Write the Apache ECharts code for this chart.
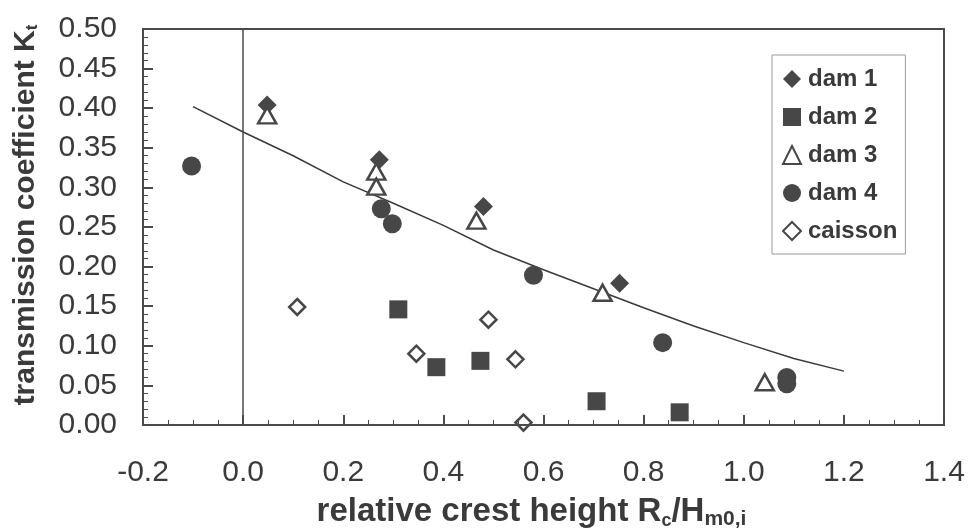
<!DOCTYPE html>
<html>
<head>
<meta charset="utf-8">
<script src="https://cdn.jsdelivr.net/npm/echarts@6/dist/echarts.min.js"></script>
<style>
html,body{margin:0;padding:0;background:#fff;}
#wrap{position:relative;width:969px;height:531px;}
#chart,#ticks{position:absolute;left:0;top:0;width:969px;height:531px;}
#ticks{pointer-events:none;}
</style>
</head>
<body>
<div id="wrap"><div id="chart"></div><div id="ticks"></div></div>
<script>
// ---- data ----
const dam1X = [0.048, 0.272, 0.480, 0.752];
const dam1Y = [0.404, 0.335, 0.276, 0.179];
const dam2X = [0.310, 0.386, 0.474, 0.706, 0.872];
const dam2Y = [0.146, 0.073, 0.081, 0.030, 0.016];
const dam3X = [0.048, 0.266, 0.266, 0.466, 0.718, 1.042];
const dam3Y = [0.391, 0.320, 0.301, 0.258, 0.167, 0.054];
const dam4X = [-0.103, 0.276, 0.298, 0.580, 0.838, 1.086, 1.086];
const dam4Y = [0.327, 0.273, 0.254, 0.189, 0.104, 0.060, 0.052];
const caissonX = [0.108, 0.346, 0.490, 0.544, 0.560];
const caissonY = [0.149, 0.090, 0.133, 0.083, 0.003];
const trendX = [-0.1, 0.0, 0.1, 0.2, 0.3, 0.4, 0.5, 0.6, 0.7, 0.8, 0.9, 1.0, 1.1, 1.2];
const trendY = [0.402, 0.370, 0.340, 0.307, 0.280, 0.252, 0.221, 0.196, 0.172, 0.148, 0.125, 0.104, 0.084, 0.068];
const seriesNames = ['dam 1', 'dam 2', 'dam 3', 'dam 4', 'caisson'];
const xRange = [-0.2, 1.4], xStep = 0.2;
const yRange = [0, 0.5], yStep = 0.05;

const zip = (xs, ys) => xs.map((x, i) => [x, ys[i]]);
const ink = '#474747';
const txt = '#3a3a3a';
const axisCol = '#4a4a4a';
const clear = 'rgba(0,0,0,0)';
const font = 'Liberation Sans, Arial, sans-serif';
const gridBox = { left: 143, right: 25, top: 29, bottom: 106 };

// axis that only draws a frame line
const frameAxis = (pos, r) => ({
  type: 'value', position: pos, min: r[0], max: r[1],
  axisLine: { show: true, onZero: false, lineStyle: { color: axisCol, width: 2 } },
  axisTick: { show: false }, axisLabel: { show: false }, splitLine: { show: false }
});
// axis that draws inward ticks (labels kept but transparent)
const tickAxis = (pos, r, step, minorSplit) => ({
  type: 'value', position: pos, min: r[0], max: r[1], interval: step,
  axisLine: { show: true, onZero: false, lineStyle: { color: axisCol, width: 2 } },
  axisTick: { show: true, inside: true, length: 10, lineStyle: { color: axisCol, width: 1.5 } },
  minorTick: { show: true, splitNumber: minorSplit, length: 5, lineStyle: { color: axisCol, width: 1 } },
  axisLabel: { show: true, color: clear, fontSize: 10 }, splitLine: { show: false }
});

const chart = echarts.init(document.getElementById('chart'));
chart.setOption({
  backgroundColor: '#ffffff',
  animation: false,
  textStyle: { fontFamily: font, color: txt },
  grid: Object.assign({ outerBoundsMode: 'none' }, gridBox),
  legend: {
    data: seriesNames,
    orient: 'vertical',
    left: 772, top: 55,
    padding: [12, 8, 11, 10],
    itemGap: 14,
    itemWidth: 18, itemHeight: 18,
    borderColor: '#9a9a9a', borderWidth: 1,
    textStyle: { fontSize: 24, fontWeight: 'bold', color: txt, fontFamily: font, padding: [0, 0, 0, 2] }
  },
  xAxis: [{
    type: 'value', position: 'bottom', min: xRange[0], max: xRange[1], interval: xStep,
    name: 'relative crest height R{sub|c}/H{sub2|m0,i}',
    nameLocation: 'middle', nameGap: 69,
    nameTextStyle: { fontSize: 33, fontWeight: 'bold', color: txt, fontFamily: font, padding: [0, 24, 0, 0],
      rich: {
        sub: { fontSize: 18, fontWeight: 'bold', color: txt, fontFamily: font, verticalAlign: 'bottom', padding: [15, 0, 0, 0] },
        sub2: { fontSize: 21, fontWeight: 'bold', color: txt, fontFamily: font, verticalAlign: 'bottom', padding: [15, 0, 0, 0] }
      } },
    axisLine: { show: true, onZero: false, lineStyle: { color: axisCol, width: 2 } },
    axisTick: { show: true, inside: true, length: 10, lineStyle: { color: axisCol, width: 1.5 } },
    minorTick: { show: true, splitNumber: 4, length: 5, lineStyle: { color: axisCol, width: 1 } },
    splitLine: { show: false },
    axisLabel: { fontSize: 30, color: txt, margin: 33, formatter: v => v.toFixed(1) }
  }, frameAxis('top', xRange), tickAxis('bottom', xRange, xStep, 4)],
  yAxis: [{
    type: 'value', position: 'left', min: yRange[0], max: yRange[1], interval: yStep,
    name: 'transmission coefficient K{sub|t}',
    nameLocation: 'middle', nameGap: 102, nameRotate: 90,
    nameTextStyle: { fontSize: 30, fontWeight: 'bold', color: txt, fontFamily: font, padding: [0, 0, 0, 24],
      rich: { sub: { fontSize: 17, fontWeight: 'bold', color: txt, fontFamily: font, verticalAlign: 'bottom', padding: [12, 0, 0, 0] } } },
    axisLine: { show: true, onZero: false, lineStyle: { color: axisCol, width: 2 } },
    axisTick: { show: true, inside: true, length: 10, lineStyle: { color: axisCol, width: 1.5 } },
    minorTick: { show: true, splitNumber: 5, length: 5, lineStyle: { color: axisCol, width: 1 } },
    splitLine: { show: false },
    axisLabel: { fontSize: 30, color: txt, margin: 26, formatter: v => v.toFixed(2) }
  }, frameAxis('right', yRange), tickAxis('left', yRange, yStep, 5)],
  series: [
    {
      name: 'trend', type: 'line', data: zip(trendX, trendY), showSymbol: false, symbol: 'none',
      lineStyle: { color: '#3a3a3a', width: 1.5 }, z: 1, silent: true,
      markLine: { silent: true, symbol: ['none', 'none'], label: { show: false },
        lineStyle: { color: axisCol, width: 1.5, type: 'solid' }, data: [{ xAxis: 0 }] }
    },
    { name: 'dam 1', type: 'scatter', symbol: 'diamond', symbolSize: 19, data: zip(dam1X, dam1Y),
      itemStyle: { color: ink, opacity: 1 }, z: 3 },
    { name: 'dam 2', type: 'scatter', symbol: 'rect', symbolSize: 18, data: zip(dam2X, dam2Y),
      itemStyle: { color: ink, opacity: 1 }, z: 3 },
    { name: 'dam 3', type: 'scatter', symbol: 'triangle', symbolSize: [18, 16], data: zip(dam3X, dam3Y),
      itemStyle: { color: '#ffffff', borderColor: ink, borderWidth: 2.5, opacity: 1 }, z: 3 },
    { name: 'dam 4', type: 'scatter', symbol: 'circle', symbolSize: 19, data: zip(dam4X, dam4Y),
      itemStyle: { color: ink, opacity: 1 }, z: 3 },
    { name: 'caisson', type: 'scatter', symbol: 'diamond', symbolSize: 16, data: zip(caissonX, caissonY),
      itemStyle: { color: '#ffffff', borderColor: ink, borderWidth: 2.5, opacity: 1 }, z: 3 }
  ]
});

// overlay instance: same grid, draws the inward major/minor ticks
const ticks = echarts.init(document.getElementById('ticks'));
ticks.setOption({
  animation: false,
  grid: Object.assign({}, gridBox),
  xAxis: { type: 'value', min: xRange[0], max: xRange[1], interval: xStep,
    axisLine: { show: true, onZero: false, lineStyle: { color: axisCol, width: 2 } },
    axisTick: { show: true, inside: true, length: 10, lineStyle: { color: axisCol, width: 1.5 } },
    minorTick: { show: true, splitNumber: 4, length: 5, lineStyle: { color: axisCol, width: 1 } },
    axisLabel: { show: true, color: clear }, splitLine: { show: false } },
  yAxis: { type: 'value', min: yRange[0], max: yRange[1], interval: yStep,
    axisLine: { show: true, onZero: false, lineStyle: { color: axisCol, width: 2 } },
    axisTick: { show: true, inside: true, length: 10, lineStyle: { color: axisCol, width: 1.5 } },
    minorTick: { show: true, splitNumber: 5, length: 5, lineStyle: { color: axisCol, width: 1 } },
    axisLabel: { show: true, color: clear }, splitLine: { show: false } },
  series: [{ type: 'scatter', data: [[xRange[0], yRange[0]]], symbolSize: 1, itemStyle: { opacity: 0 }, silent: true }]
});
</script>
</body>
</html>
